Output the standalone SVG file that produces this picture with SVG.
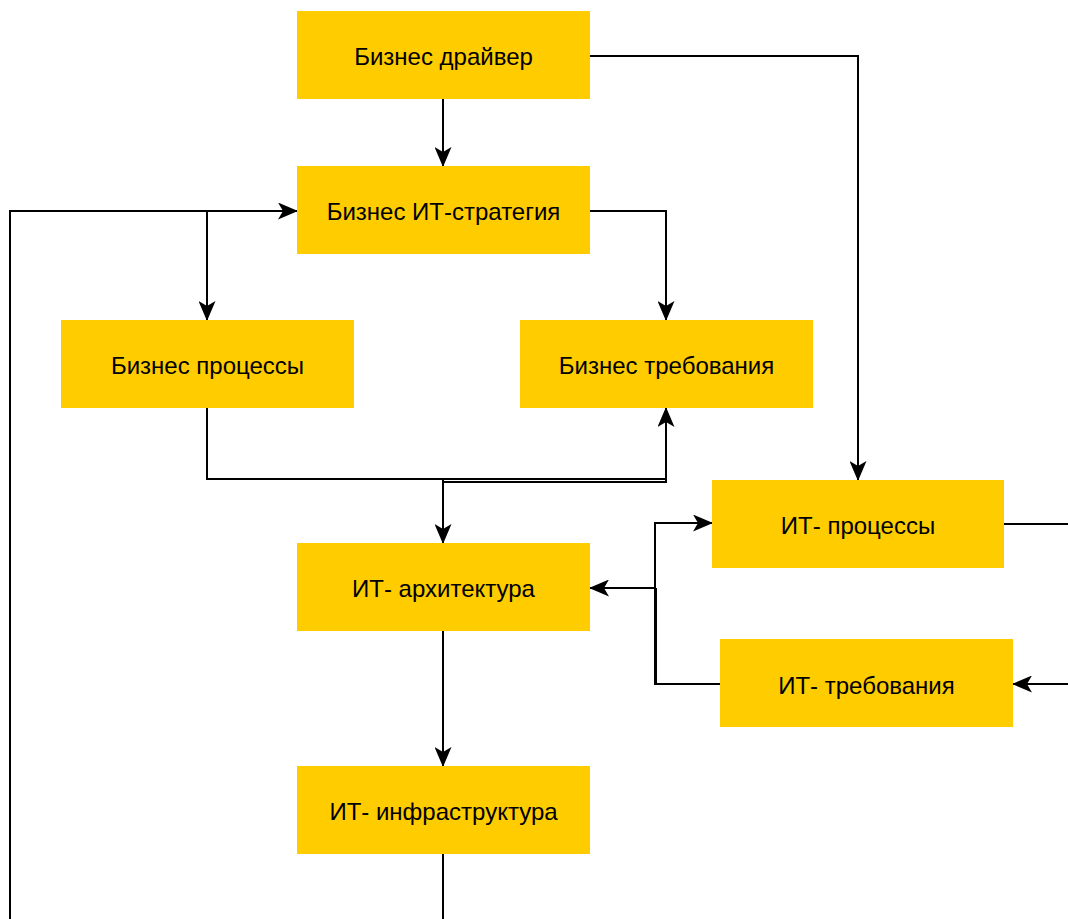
<svg xmlns="http://www.w3.org/2000/svg" width="1068" height="919" viewBox="0 0 1068 919">
<style>
.n{fill:#FFCC00;}
.t{font-family:"Liberation Sans",Arial,sans-serif;font-size:24px;fill:#000;text-anchor:middle;dominant-baseline:central;}
.c{fill:none;stroke:#000;stroke-width:2;}
</style>
<defs>
<marker id="a" viewBox="0 0 20 17" refX="19" refY="8.5" markerWidth="20" markerHeight="17" markerUnits="userSpaceOnUse" orient="auto">
<path d="M0,0 L20,8.5 L0,17 L5,8.5 Z" fill="#000"/>
</marker>
</defs>
<rect width="1068" height="919" fill="#fff"/>
<g id="connectors">
<path class="c" d="M443,99 V166" marker-end="url(#a)"/>
<path class="c" d="M590,56 H858 V480" marker-end="url(#a)"/>
<path class="c" d="M443,854 V919"/>
<path class="c" d="M10,919 V211 H297" marker-end="url(#a)"/>
<path class="c" d="M207,211 V320" marker-end="url(#a)"/>
<path class="c" d="M590,211 H666 V320" marker-end="url(#a)"/>
<path class="c" d="M207,408 V479 H443 V543" marker-end="url(#a)"/>
<path class="c" d="M443,482 H666 V408" marker-end="url(#a)"/>
<path class="c" d="M443,479 H666"/>
<path class="c" d="M720,684 H655 V588 H590" marker-end="url(#a)"/>
<path class="c" d="M656,684 V588"/>
<path class="c" d="M655,588 V523 H712" marker-end="url(#a)"/>
<path class="c" d="M1004,524 H1068"/>
<path class="c" d="M1068,684 H1013" marker-end="url(#a)"/>
<path class="c" d="M443,631 V766" marker-end="url(#a)"/>
</g>
<g id="biz-driver"><rect class="n" x="297" y="11" width="293" height="88"/><text class="t" x="443.5" y="56">Бизнес драйвер</text></g>
<g id="biz-it-strategy"><rect class="n" x="297" y="166" width="293" height="88"/><text class="t" x="443.5" y="211">Бизнес ИТ-стратегия</text></g>
<g id="biz-processes"><rect class="n" x="61" y="320" width="293" height="88"/><text class="t" x="207.5" y="365">Бизнес процессы</text></g>
<g id="biz-requirements"><rect class="n" x="520" y="320" width="293" height="88"/><text class="t" x="666.5" y="365">Бизнес требования</text></g>
<g id="it-processes"><rect class="n" x="712" y="480" width="292" height="88"/><text class="t" x="858" y="525">ИТ- процессы</text></g>
<g id="it-architecture"><rect class="n" x="297" y="543" width="293" height="88"/><text class="t" x="443.5" y="588">ИТ- архитектура</text></g>
<g id="it-requirements"><rect class="n" x="720" y="639" width="293" height="88"/><text class="t" x="866.5" y="685">ИТ- требования</text></g>
<g id="it-infrastructure"><rect class="n" x="297" y="766" width="293" height="88"/><text class="t" x="443.5" y="811">ИТ- инфраструктура</text></g>
</svg>
